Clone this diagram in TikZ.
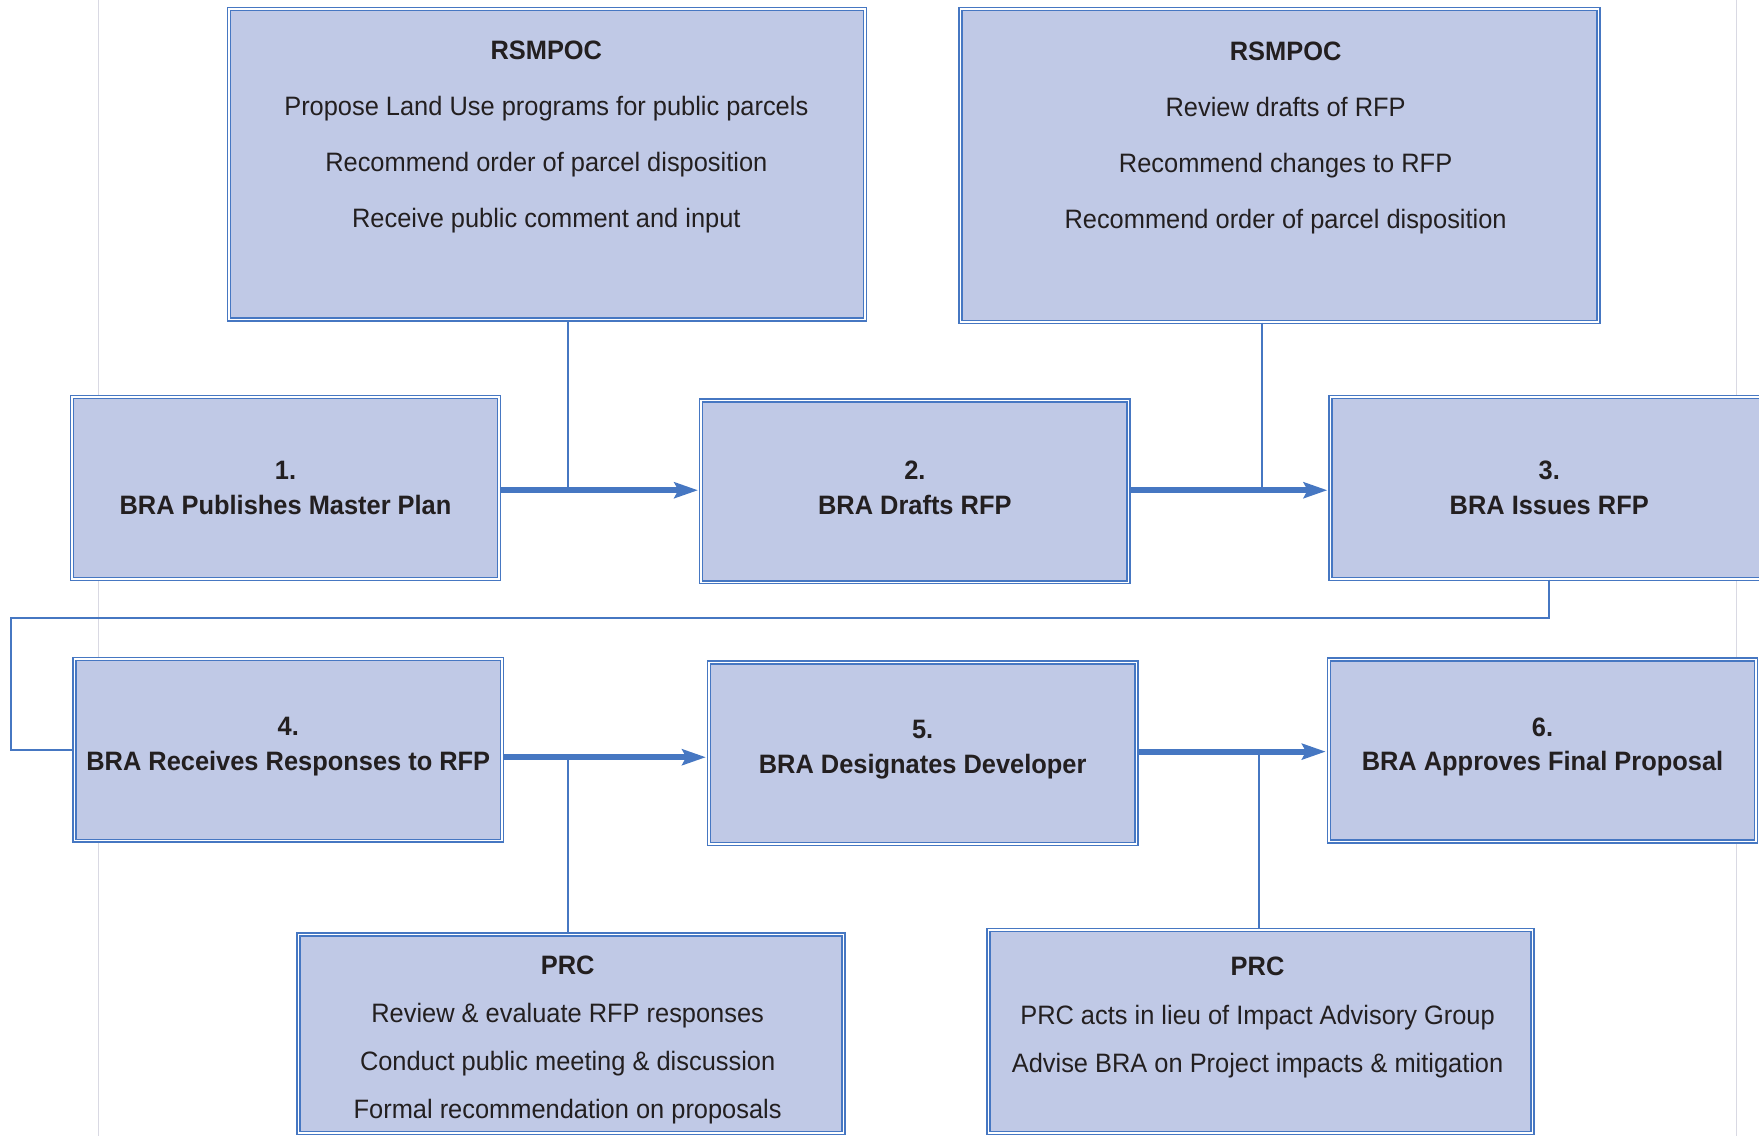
\documentclass[tikz,border=0pt]{standalone}
\usepackage{fontspec}
\setmainfont{Liberation Sans}[FakeStretch=0.955]
\usepackage{tikz}
\usetikzlibrary{arrows.meta,positioning}
\usepackage{xcolor}
\definecolor{boxFill}{HTML}{C0C9E6}
\definecolor{boxLine}{HTML}{4677C2}
\definecolor{inkDark}{HTML}{231F20}
\definecolor{pageGray}{HTML}{D9D9E3}

\begin{document}
\begin{tikzpicture}[x=0.02cm, y=-0.02cm,
    box/.style={draw=boxLine, double=white, line width=0.8pt, double distance=0.7pt, fill=boxFill, inner sep=0pt},
    stage/.style={box, minimum width=7.62cm, minimum height=3.24cm, align=center, text=inkDark,
                  font=\fontsize{13.5pt}{17.6pt}\selectfont\bfseries},
    note/.style={align=center, text=inkDark},
    flow/.style={draw=boxLine, line width=3pt, -{Stealth[length=12pt, width=8pt, inset=2pt]}, shorten >=1.2pt},
    link/.style={draw=boxLine, line width=1.1pt},
]
    \useasboundingbox (0,0) rectangle (1568,1013);
    \clip (0,0) rectangle (1568,1013);
    % faint page rules behind everything
    \draw[pageGray, line width=0.6pt] (88,0) -- (88,1013);
    \draw[pageGray, line width=0.6pt] (1548,0) -- (1548,1013);

    % committee boxes
    \node[box, minimum width=11.34cm, minimum height=5.54cm] (rsmpocA) at (487.5,146.5) {};
    \node[box, minimum width=11.38cm, minimum height=5.58cm] (rsmpocB) at (1140.5,147.5) {};
    \node[box, minimum width=9.72cm, minimum height=3.54cm] (prcA) at (509,921.5) {};
    \node[box, minimum width=9.70cm, minimum height=3.62cm] (prcB) at (1123.5,919.5) {};

    \node[note, font=\fontsize{13.5pt}{28.45pt}\selectfont] (rsmpocAtxt) at (487,122)
        {\textbf{RSMPOC}\\Propose Land Use programs for public parcels\\Recommend order of parcel disposition\\Receive public comment and input};
    \node[note, font=\fontsize{13.5pt}{28.45pt}\selectfont] (rsmpocBtxt) at (1146,123)
        {\textbf{RSMPOC}\\Review drafts of RFP\\Recommend changes to RFP\\Recommend order of parcel disposition};
    \node[note, font=\fontsize{13.5pt}{24.5pt}\selectfont] (prcAtxt) at (506,927)
        {\textbf{PRC}\\Review \& evaluate RFP responses\\Conduct public meeting \& discussion\\Formal recommendation on proposals};
    \node[note, font=\fontsize{13.5pt}{24.5pt}\selectfont] (prcBtxt) at (1121,907)
        {\textbf{PRC}\\PRC acts in lieu of Impact Advisory Group\\Advise BRA on Project impacts \& mitigation};

    % process steps
    \node[stage] (publish) at (254.5,435) {1.\\BRA Publishes Master Plan};
    \node[stage, text depth=3.4pt] (drafts) at (815.5,438) {2.\\BRA Drafts RFP};
    \node[stage, minimum width=7.80cm] (issues) at (1381,435) {3.\\BRA Issues RFP};
    \node[stage, text depth=6.3pt] (receives) at (257,668.5) {4.\\BRA Receives Responses to RFP};
    \node[stage, text depth=6.3pt] (designates) at (822.5,671.5) {5.\\BRA Designates Developer};
    \node[stage, text depth=6.3pt] (approves) at (1375,669) {6.\\BRA Approves Final Proposal};

    % junctions on the flow arrows
    \coordinate (joinA) at (506,437);
    \coordinate (joinB) at (1125,437);
    \coordinate (joinC) at (506,675);
    \coordinate (joinD) at (1122,670);
    \coordinate (wrap) at (10,551);

    \draw[link] (rsmpocA.south -| joinA) -- (joinA);
    \draw[link] (rsmpocB.south -| joinB) -- (joinB);
    \draw[link] (prcA.north -| joinC) -- (joinC);
    \draw[link] (prcB.north -| joinD) -- (joinD);
    \draw[link] (issues.south) |- (wrap) |- (receives.west);

    \draw[flow] (publish.east |- joinA) -- (drafts.west |- joinA);
    \draw[flow] (drafts.east |- joinB) -- (issues.west |- joinB);
    \draw[flow] (receives.east |- joinC) -- (designates.west |- joinC);
    \draw[flow] (designates.east |- joinD) -- (approves.west |- joinD);
\end{tikzpicture}
\end{document}
